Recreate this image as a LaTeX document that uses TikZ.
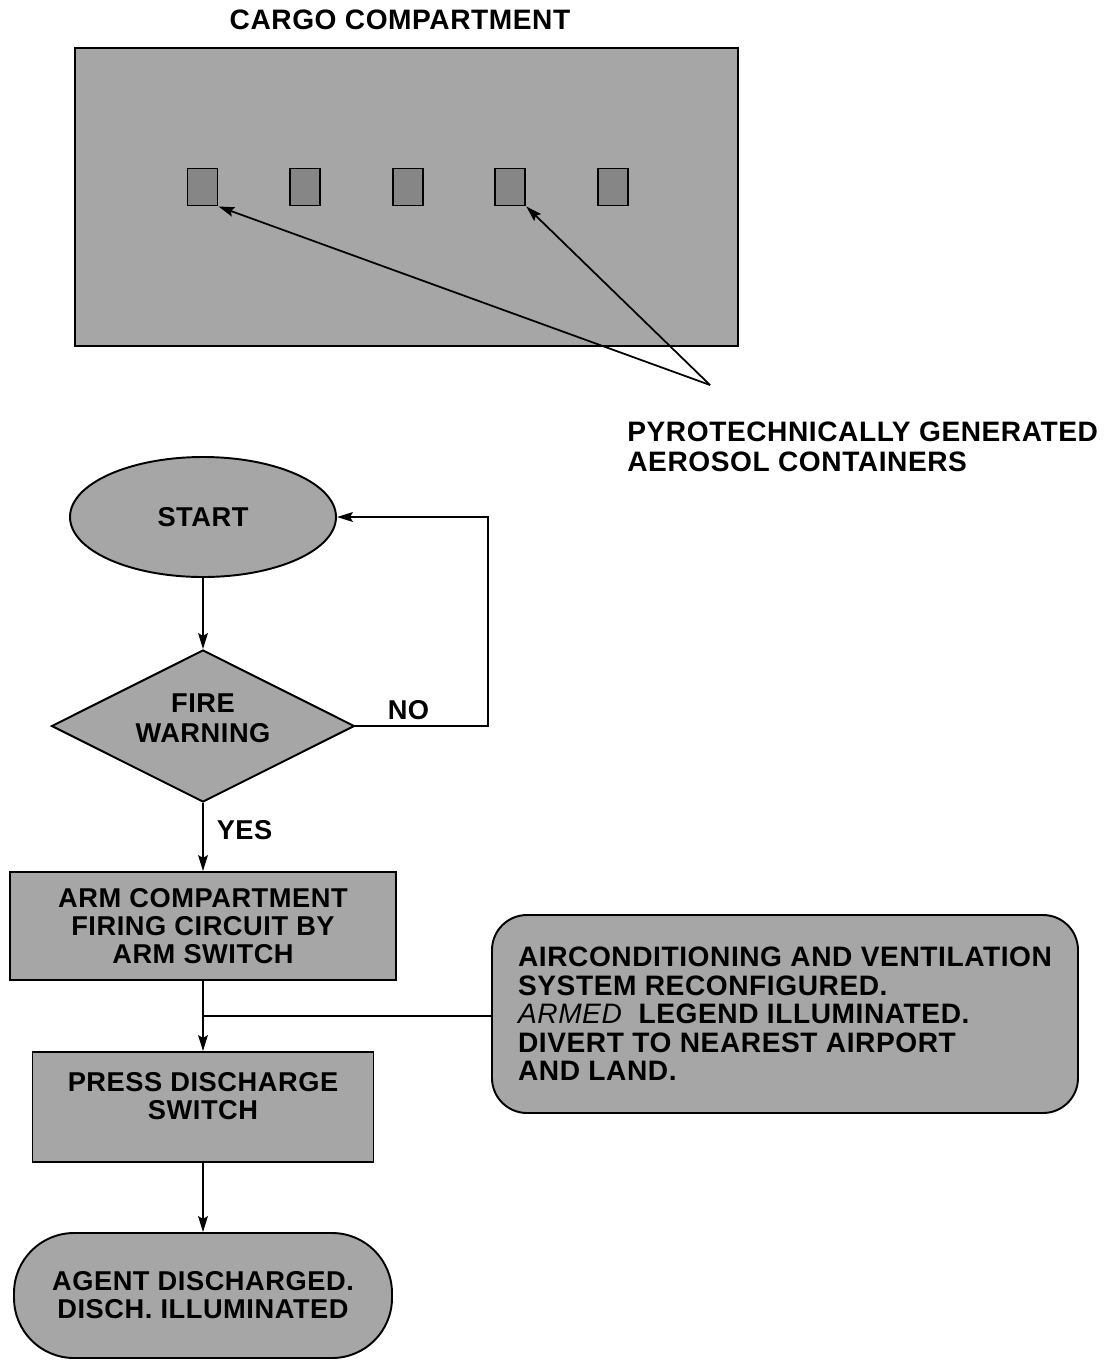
\documentclass[tikz,border=0pt]{standalone}
\usepackage{fontspec}
\setmainfont{Liberation Sans}[LetterSpace=2]
\usetikzlibrary{shapes.geometric,arrows.meta}

\newcommand\flowfont{\fontsize{15.5}{16}\selectfont\bfseries}
\newcommand\notefont{\fontsize{16}{16.2}\selectfont\bfseries}

\begin{document}
\begin{tikzpicture}[x=1cm,y=-1cm,
    >={Stealth[length=9pt,width=5.5pt,inset=1.5pt]},
    shade/.style={draw, line width=1.1pt, fill=gray!70},
    can/.style={draw, line width=1.1pt, fill=gray!95, minimum width=0.6cm, minimum height=0.74cm, inner sep=0},
    stepbox/.style={shade, rectangle, align=center, font=\flowfont, inner sep=0},
    conn/.style={line width=1pt}]
    \useasboundingbox (0,0) rectangle (22.22,27.24);

    % compartment with the aerosol containers
    \node[font=\fontsize{16}{16}\selectfont\bfseries] (title) at (8.0,0.40) {CARGO COMPARTMENT};
    \node[shade, minimum width=13.26cm, minimum height=5.96cm, inner sep=0] (hold) at (8.13,3.94) {};
    \foreach \i in {1,...,5} {
        \node[can] (c\i) at ({4.05+(\i-1)*2.052},3.74) {};
    }
    \node[anchor=west, align=left, inner sep=0, font=\fontsize{16}{17}\selectfont\bfseries] (pyro) at (12.54,8.94)
        {PYROTECHNICALLY GENERATED\\AEROSOL CONTAINERS};
    \coordinate (fan) at (14.2,7.7);
    \draw[conn,->] (fan) -- (c1.south east);
    \draw[conn,->] (fan) -- (c4.south east);

    % flow chart
    \node[shade, ellipse, font=\flowfont, minimum width=5.32cm, minimum height=2.4cm, inner sep=0] (start) at (4.06,10.34) {START};
    \node[shade, diamond, aspect=2, align=center, font=\fontsize{15.5}{17}\selectfont\bfseries,
          minimum width=6.06cm, minimum height=3.04cm, inner sep=0] (warn) at (4.06,14.52)
        {FIRE\\WARNING\rule[-0.3cm]{0pt}{0pt}};
    \node[stepbox, minimum width=7.72cm, minimum height=2.16cm] (arm) at (4.06,18.52)
        {ARM COMPARTMENT\\FIRING CIRCUIT BY\\ARM SWITCH};
    \node[stepbox, minimum width=6.82cm, minimum height=2.2cm] (press) at (4.06,22.14)
        {PRESS DISCHARGE\\SWITCH\rule[-0.45cm]{0pt}{0pt}};
    \node[stepbox, rounded corners=1.2cm, minimum width=7.56cm, minimum height=2.5cm] (done) at (4.06,25.91)
        {AGENT DISCHARGED.\\DISCH. ILLUMINATED};
    \node[shade, rounded corners=0.7cm, align=left, font=\notefont,
          minimum width=11.72cm, minimum height=3.96cm] (notes) at (15.70,20.28)
        {AIRCONDITIONING AND VENTILATION\\
         SYSTEM RECONFIGURED.\\
         {\mdseries\itshape ARMED}\ \ LEGEND ILLUMINATED.\\
         DIVERT TO NEAREST AIRPORT\\
         AND LAND.};

    \draw[conn,->] (start) -- (warn);
    \coordinate (loop) at (9.76,10.34);
    \draw[conn,->] (warn.east) -| node[above, pos=0.2, font=\flowfont] {NO} (loop) -- (start.east);
    \draw[conn,->] (warn.south) -- node[right=4pt, pos=0.4, font=\flowfont] {YES} (arm.north);
    \draw[conn,->] (arm) -- (press);
    \coordinate (split) at (4.06,20.32);
    \draw[conn] (split) -- (split -| notes.west);
    \draw[conn,->] (press) -- (done);
\end{tikzpicture}
\end{document}
